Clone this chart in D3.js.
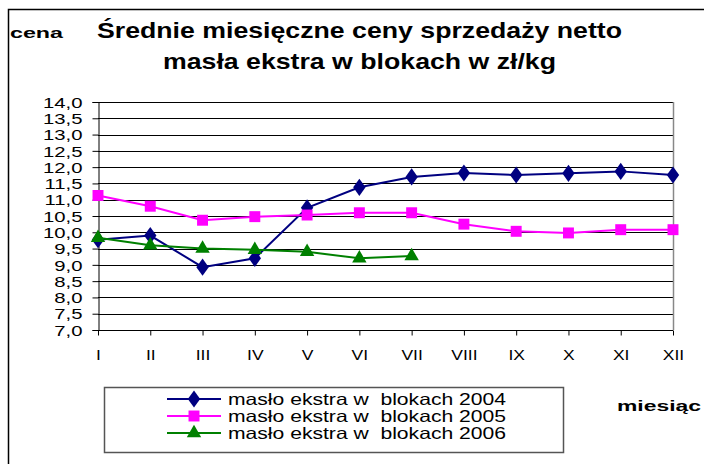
<!DOCTYPE html>
<html>
<head>
<meta charset="utf-8">
<script src="https://cdn.jsdelivr.net/npm/d3@7"></script>
<style>
  html, body { margin: 0; padding: 0; background: #fff; }
  svg { display: block; font-family: "Liberation Sans", Arial, sans-serif; }
  text { white-space: pre; }
</style>
</head>
<body>
<svg id="chart" width="704" height="464"></svg>
<script>
const months = ["I","II","III","IV","V","VI","VII","VIII","IX","X","XI","XII"];
const yTicks = [7.0,7.5,8.0,8.5,9.0,9.5,10.0,10.5,11.0,11.5,12.0,12.5,13.0,13.5,14.0];
const s2004 = [9.77, 9.9, 8.93, 9.2, 10.75, 11.38, 11.7, 11.82, 11.76, 11.81, 11.87, 11.76];
const s2005 = [11.13, 10.8, 10.37, 10.48, 10.53, 10.6, 10.6, 10.25, 10.03, 9.98, 10.08, 10.08];
const s2006 = [9.83, 9.6, 9.5, 9.46, 9.4, 9.2, 9.27];
const seriesNames = ["masło ekstra w  blokach 2004", "masło ekstra w  blokach 2005", "masło ekstra w  blokach 2006"];
const titleLines = ["Średnie miesięczne ceny sprzedaży netto", "masła ekstra w blokach w zł/kg"];

const svg = d3.select("#chart");
const L = 98, R = 673, T = 102, B = 330;

// outer frame
svg.append("path").attr("d", "M8.5,464 L8.5,9.5 L704,9.5")
  .attr("fill", "none").attr("stroke", "#000").attr("stroke-width", 1.5);

const x = d3.scalePoint().domain(months).range([L, R]);
const y = d3.scaleLinear().domain([7, 14]).range([B, T]);

// gridlines
svg.append("g").selectAll("line").data(yTicks.filter(v => v > 7)).join("line")
  .attr("x1", L).attr("x2", R)
  .attr("y1", d => Math.round(y(d)) + 0.5).attr("y2", d => Math.round(y(d)) + 0.5)
  .attr("stroke", "#000").attr("stroke-width", 1);
// right border
svg.append("line").attr("x1", R + 0.5).attr("x2", R + 0.5).attr("y1", T).attr("y2", B)
  .attr("stroke", "#888").attr("stroke-width", 1.5);

// y axis
const yAxis = d3.axisLeft(y).tickValues(yTicks).tickSize(6).tickPadding(10)
  .tickFormat(d => d3.format(".1f")(d).replace(".", ","));
const gy = svg.append("g").attr("transform", `translate(${L + 0.5},0)`).call(yAxis);
gy.select(".domain").attr("stroke", "#000");
gy.selectAll(".tick line").attr("stroke", "#000");
gy.selectAll(".tick text").attr("font-size", 14.5).attr("fill", "#000")
  .attr("font-family", "Liberation Sans, Arial, sans-serif")
  .attr("dy", "0.36em")
  .each(function() {
    const t = d3.select(this);
    const xx = +t.attr("x");
    t.attr("x", null).attr("transform", `translate(${xx},0) scale(1.4,1)`);
  });

// x axis
const xAxis = d3.axisBottom(x).tickSize(5).tickPadding(15);
const gx = svg.append("g").attr("transform", `translate(0,${B + 0.5})`).call(xAxis);
gx.select(".domain").attr("stroke", "#000").attr("d", `M${L},0H${R}`);
gx.selectAll(".tick line").attr("stroke", "#000");
gx.selectAll(".tick text").attr("font-size", 14).attr("fill", "#000")
  .attr("font-family", "Liberation Sans, Arial, sans-serif")
  .each(function() {
    const t = d3.select(this);
    const yy = +t.attr("y");
    t.attr("y", null).attr("transform", `translate(0,${yy}) scale(1.25,1)`);
  });

const series = [
  {vals: s2004, color: "#000080", sym: d3.symbolDiamond, size: 85, name: seriesNames[0]},
  {vals: s2005, color: "#ff00ff", sym: d3.symbolSquare, size: 120, name: seriesNames[1]},
  {vals: s2006, color: "#008000", sym: d3.symbolTriangle, size: 90, name: seriesNames[2]}
];

const line = d3.line().x((d, i) => x(months[i])).y(d => y(d));

series.forEach(s => {
  const g = svg.append("g");
  g.append("path").attr("d", line(s.vals)).attr("fill", "none")
    .attr("stroke", s.color).attr("stroke-width", 2);
  g.selectAll("path.m").data(s.vals).join("path").attr("class", "m")
    .attr("d", d3.symbol().type(s.sym).size(s.size))
    .attr("transform", (d, i) => s.sym === d3.symbolDiamond
      ? `translate(${x(months[i])},${y(d)}) scale(1.25,1)`
      : `translate(${x(months[i])},${y(d)})`)
    .attr("fill", s.color);
});

// titles
svg.append("text").attr("x", 10).attr("y", 38).attr("font-size", 14).attr("font-weight", "bold")
  .attr("textLength", 53).attr("lengthAdjust", "spacingAndGlyphs").text("cena");
svg.append("text").attr("x", 97).attr("y", 38).attr("font-size", 22).attr("font-weight", "bold")
  .attr("textLength", 525).attr("lengthAdjust", "spacingAndGlyphs").text(titleLines[0]);
svg.append("text").attr("x", 163).attr("y", 69).attr("font-size", 22).attr("font-weight", "bold")
  .attr("textLength", 393).attr("lengthAdjust", "spacingAndGlyphs").text(titleLines[1]);

// legend
svg.append("rect").attr("x", 104.5).attr("y", 387.5).attr("width", 459).attr("height", 65)
  .attr("fill", "#fff").attr("stroke", "#555").attr("stroke-width", 1.5);
const legRows = [404, 421, 438];
series.forEach((s, i) => {
  const g = svg.append("g").attr("transform", `translate(0,${legRows[i] - 5})`);
  g.append("line").attr("x1", 167).attr("x2", 221).attr("stroke", s.color).attr("stroke-width", 2);
  g.append("path").attr("d", d3.symbol().type(s.sym).size(s.size))
    .attr("transform", s.sym === d3.symbolDiamond ? "translate(194,0) scale(1.25,1)" : "translate(194,0)")
    .attr("fill", s.color);
  svg.append("text").attr("x", 228).attr("y", legRows[i] + 1).attr("font-size", 16.5)
    .attr("textLength", 278).attr("lengthAdjust", "spacingAndGlyphs").text(s.name);
});

svg.append("text").attr("x", 617).attr("y", 411).attr("font-size", 15).attr("font-weight", "bold")
  .attr("textLength", 84).attr("lengthAdjust", "spacingAndGlyphs").text("miesiąc");
</script>
</body>
</html>
